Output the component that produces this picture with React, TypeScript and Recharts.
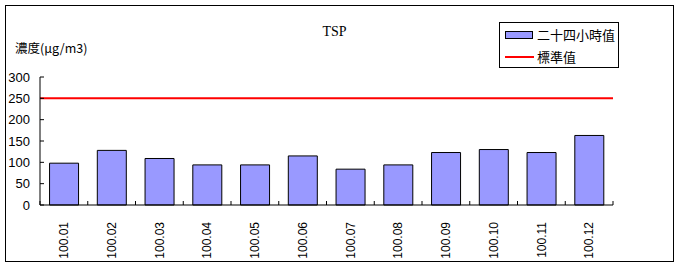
import React from 'react';
import { BarChart, Bar, XAxis, YAxis, ReferenceLine } from 'recharts';

const categories = ['100.01', '100.02', '100.03', '100.04', '100.05', '100.06', '100.07', '100.08', '100.09', '100.10', '100.11', '100.12'];
const tsp24h = [98, 128, 109, 94, 94, 115, 84, 94, 123, 130, 123, 163];
const standardValue = 250;
const yTicks = [0, 50, 100, 150, 200, 250, 300];
const title = 'TSP';
const yLabel = '濃度(μg/m3)';
const seriesName = '二十四小時值';
const standardName = '標準值';

const data = categories.map((c, i) => ({ month: c, value: tsp24h[i] }));

const XTick = (props: any) => {
  const { x, y, payload, index, visibleTicksCount } = props;
  const off = payload.offset || 0;
  return (
    <g>
      <line x1={x - off} x2={x - off} y1={y} y2={y - 4} stroke="#000" />
      {index === visibleTicksCount - 1 && (
        <line x1={x + off} x2={x + off} y1={y} y2={y - 4} stroke="#000" />
      )}
      <text
        x={x}
        y={y + 17}
        transform={`rotate(-90, ${x}, ${y + 17})`}
        textAnchor="end"
        dy="0.35em"
        fontSize={12}
        fontFamily="'Liberation Sans', sans-serif"
        fill="#000"
      >
        {payload.value}
      </text>
    </g>
  );
};

const YTick = (props: any) => {
  const { x, y, payload } = props;
  return (
    <g>
      <line x1={x + 10} x2={x + 14} y1={y} y2={y} stroke="#000" />
      <text x={x} y={y} dy="0.35em" textAnchor="end" fontSize={13} fontFamily="'Liberation Sans', sans-serif" fill="#000">
        {payload.value}
      </text>
    </g>
  );
};

export default function App() {
  return (
    <div style={{ position: 'absolute', left: 0, top: 0, width: 679, height: 266, background: '#fff' }}>
      <div style={{ position: 'absolute', left: 5, top: 5, width: 669, height: 257, border: '1px solid #000', boxSizing: 'border-box' }} />
      <div style={{ position: 'absolute', left: 0, width: 679, top: 24, textAlign: 'center', fontFamily: "'Liberation Serif', serif", fontSize: 14, lineHeight: '16px' }}>
        <span style={{ position: 'relative', left: -5 }}>{title}</span>
      </div>
      <div style={{ position: 'absolute', left: 15, top: 40, fontFamily: "'Noto Sans CJK TC', sans-serif", fontSize: 12.5, lineHeight: '16px' }}>
        {yLabel}
      </div>
      <div style={{ position: 'absolute', left: 499, top: 22, width: 120, height: 46, border: '1px solid #000', boxSizing: 'border-box', fontFamily: "'Noto Sans CJK TC', sans-serif", fontSize: 13, background: '#fff', zIndex: 2 }}>
        <div style={{ position: 'absolute', left: 5, top: 8, width: 28, height: 8, background: '#9999FF', border: '1px solid #000', boxSizing: 'border-box' }} />
        <div style={{ position: 'absolute', left: 37, top: 4, lineHeight: '16px', whiteSpace: 'nowrap' }}>{seriesName}</div>
        <div style={{ position: 'absolute', left: 5, top: 33, width: 29, height: 2, background: '#FF0000' }} />
        <div style={{ position: 'absolute', left: 37, top: 26, lineHeight: '16px', whiteSpace: 'nowrap' }}>{standardName}</div>
      </div>
      <div style={{ position: 'absolute', left: 0, top: 0 }}>
        <BarChart width={679} height={266} data={data} margin={{ top: 77, right: 66, bottom: 0, left: 0 }} barCategoryGap="20%">
          <XAxis
            dataKey="month"
            height={61}
            tickLine={false}
            tickSize={0}
            tickMargin={0}
            interval={0}
            tick={<XTick />}
            axisLine={{ stroke: '#000' }}
          />
          <YAxis
            width={40}
            domain={[0, 300]}
            ticks={yTicks}
            interval={0}
            tickLine={false}
            tickSize={0}
            tickMargin={10}
            tick={<YTick />}
            axisLine={{ stroke: '#000' }}
          />
          <Bar dataKey="value" fill="#9999FF" stroke="#000" strokeWidth={1} isAnimationActive={false} />
          <ReferenceLine y={standardValue} stroke="#FF0000" strokeWidth={2} />
        </BarChart>
      </div>
    </div>
  );
}
